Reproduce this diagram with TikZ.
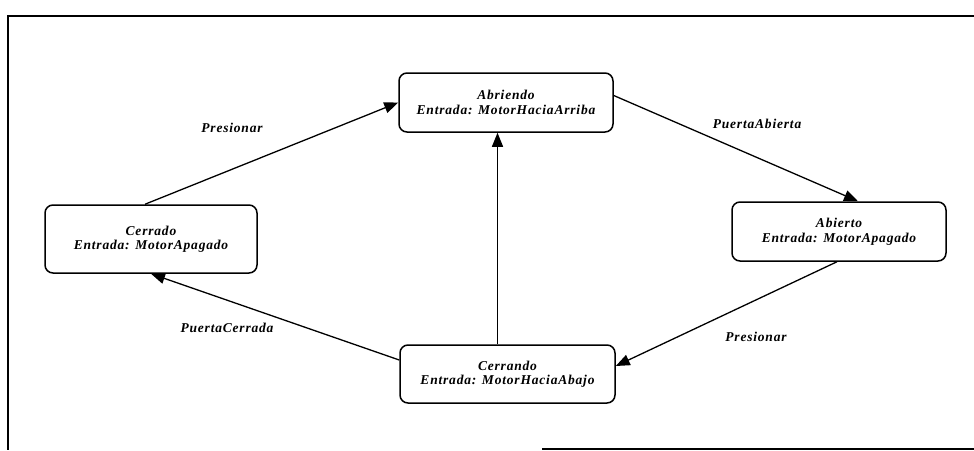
\documentclass[tikz,border=0pt]{standalone}
\usepackage{fontspec}
\setmainfont{Liberation Serif}
\newfontfamily\statefont[LetterSpace=6]{Liberation Serif}
\usetikzlibrary{arrows.meta,calc}
\begin{document}
\begin{tikzpicture}[x=1pt,y=-1pt,
  state/.style={draw,line width=1.5pt,rounded corners=8pt,align=center,
    minimum width=214pt,minimum height=59pt,inner sep=0pt,
    font=\statefont\bfseries\itshape\fontsize{13.5}{14.5}\selectfont},
  trans/.style={draw,line width=1.3pt,-{Triangle[length=14pt,width=11pt]}},
  lbl/.style={font=\statefont\bfseries\itshape\fontsize{13.5}{15}\selectfont,inner sep=0pt},
  frame/.style={line width=1.6pt}]
\useasboundingbox (0,0) rectangle (974,450);
% outer frame
\draw[frame] (974,16) -- (8,16) -- (8,450);
\draw[frame] (542,449) -- (974,449);
% states
\node[state] (abriendo) at (506,102.5) {Abriendo\\Entrada: MotorHaciaArriba};
\node[state,minimum width=212pt,minimum height=68pt] (cerrado) at (151,239) {Cerrado\\Entrada: MotorApagado};
\node[state] (abierto) at (839,231.5) {Abierto\\Entrada: MotorApagado};
\node[state,minimum width=215pt,minimum height=58pt] (cerrando) at (507.5,374) {Cerrando\\Entrada: MotorHaciaAbajo};
% transitions
\draw[trans] ([xshift=-6pt]cerrado.north) -- (abriendo.west);
\draw[trans] ([yshift=7pt]abriendo.east) -- ([xshift=19pt]abierto.north);
\draw[trans] ([xshift=-2pt]abierto.south) -- ([yshift=8pt]cerrando.east);
\draw[trans] ([yshift=14pt]cerrando.west) -- (cerrado.south);
\draw[trans] ([xshift=-10pt]cerrando.north) -- ([xshift=-10pt]cerrando.north |- abriendo.south);
% transition labels
\node[lbl] (l1) at (232,128) {Presionar};
\node[lbl] (l2) at (757,124) {PuertaAbierta};
\node[lbl] (l3) at (227,328) {PuertaCerrada};
\node[lbl] (l4) at (756,337) {Presionar};
\end{tikzpicture}
\end{document}
